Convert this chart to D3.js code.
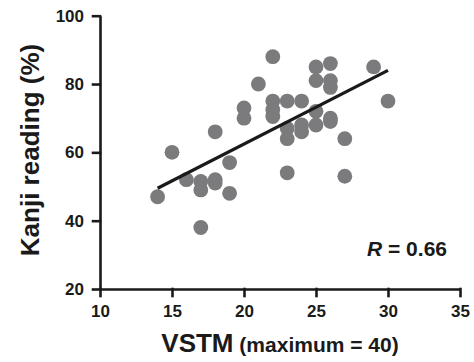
<!DOCTYPE html>
<html>
<head>
<meta charset="utf-8">
<script src="https://cdn.jsdelivr.net/npm/d3@7"></script>
<style>
    body { margin: 0; background: #fff; }
    svg text { font-family: "Liberation Sans", Arial, Helvetica, sans-serif; font-weight: bold; fill: #1a1a1a; }
    .axis path, .axis line { stroke: #1a1a1a; stroke-width: 2.6; }
</style>
</head>
<body>
<div id="chart"></div>
<script>
// VSTM score vs Kanji reading (%)
var vstm = [14, 15, 16, 17, 17, 17, 18, 18, 18, 19, 19, 20, 20, 21, 22, 22, 22, 22, 23, 23,
            23, 23, 24, 24, 24, 25, 25, 25, 25, 26, 26, 26, 26, 26, 27, 27, 29, 30];
var kanji = [47, 60, 52, 51.5, 49, 38, 66, 52, 51, 57, 48, 73, 70, 80, 88, 75, 72.5, 70.5, 75, 67,
             64, 54, 75, 68, 66, 85, 81, 72, 68, 86, 81, 79, 70, 69, 64, 53, 85, 75];

// regression line ends
var fitX = [14, 30];
var fitY = [49.5, 84];

var xTicks = [10, 15, 20, 25, 30, 35];
var yTicks = [20, 40, 60, 80, 100];
var rLabel = "0.66";

var width = 474,
    height = 362;
var margin = { top: 15.7, right: 14, bottom: 73, left: 100 };
var w = width - margin.left - margin.right,
    h = height - margin.top - margin.bottom;

var svg = d3.select("#chart").append("svg")
    .attr("width", width)
    .attr("height", height)
    .append("g")
    .attr("transform", "translate(" + margin.left + "," + margin.top + ")");

var x = d3.scaleLinear().domain([10, 35]).range([0, w]);
var y = d3.scaleLinear().domain([20, 100]).range([h, 0]);

var points = vstm.map(function (d, i) { return { x: d, y: kanji[i] }; });

svg.selectAll(".dot")
    .data(points)
    .enter()
    .append("circle")
    .attr("class", "dot")
    .attr("cx", function (d) { return x(d.x); })
    .attr("cy", function (d) { return y(d.y); })
    .attr("r", 7.4)
    .style("fill", "#7b7b7d");

var fit = fitX.map(function (d, i) { return [x(d), y(fitY[i])]; });
svg.append("path")
    .attr("d", d3.line()(fit))
    .style("fill", "none")
    .style("stroke", "#1a1a1a")
    .style("stroke-width", 3.2);

var xAxis = svg.append("g")
    .attr("class", "axis")
    .attr("transform", "translate(0," + h + ")")
    .call(d3.axisBottom(x).tickValues(xTicks).tickSize(7).tickSizeOuter(0).tickPadding(9));

var yAxis = svg.append("g")
    .attr("class", "axis")
    .call(d3.axisLeft(y).tickValues(yTicks).tickSize(7).tickSizeOuter(0).tickPadding(9));

svg.selectAll(".axis text").style("font-size", "17px");
svg.selectAll(".axis .tick line").attr("stroke-linecap", "square");

// axis titles
svg.append("text")
    .attr("transform", "translate(" + (39 - margin.left) + "," + (150 - margin.top) + ") rotate(-90)")
    .attr("text-anchor", "middle")
    .style("font-size", "26px")
    .text("Kanji reading (%)");

var xt = svg.append("text")
    .attr("x", x(22.5))
    .attr("y", 352.5 - margin.top)
    .attr("text-anchor", "middle");
xt.append("tspan").style("font-size", "26px").text("VSTM");
xt.append("tspan").style("font-size", "21px").text(" (maximum = 40)");

var rt = svg.append("text")
    .attr("x", 447 - margin.left)
    .attr("y", 256.5 - margin.top)
    .attr("text-anchor", "end")
    .style("font-size", "21px");
rt.append("tspan").style("font-style", "italic").text("R");
rt.append("tspan").text(" = " + rLabel);
</script>
</body>
</html>
